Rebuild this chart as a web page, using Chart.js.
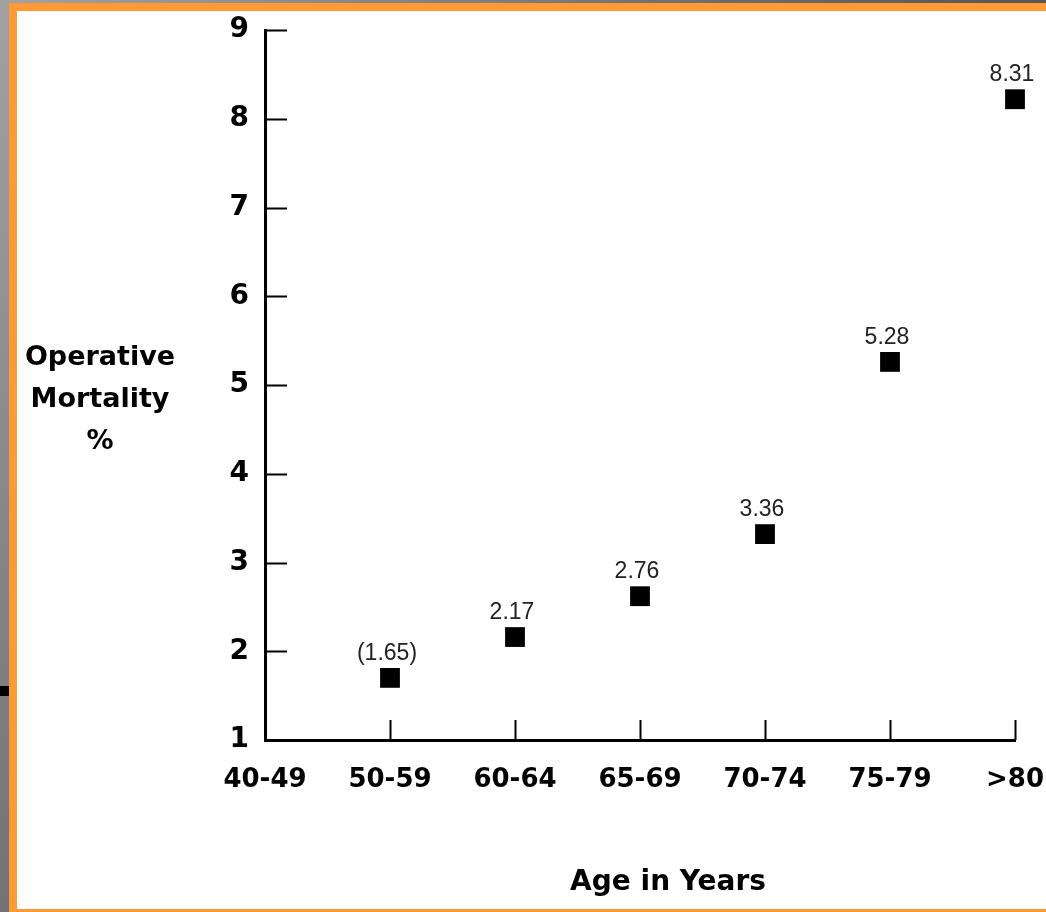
<!DOCTYPE html>
<html>
<head>
<meta charset="utf-8">
<script src="https://cdn.jsdelivr.net/npm/chart.js@4/dist/chart.umd.min.js"></script>
<style>
  html, body { margin: 0; padding: 0; }
  body {
    width: 1046px; height: 912px; overflow: hidden; position: relative;
    background: linear-gradient(125deg, #a2a2a2 0%, #6a6a6a 45%, #2a2a2a 100%);
  }
  #frame {
    position: absolute; left: 9px; top: 3px; width: 1100px; height: 898px;
    border-left: 8px solid #fe9a36; border-top: 8px solid #fe9a36; border-bottom: 3px solid #fe9a36;
    background: #fff;
  }
  #mark { position: absolute; left: 0; top: 686px; width: 9px; height: 10px; background: #000; }
  #myChart { position: absolute; left: 0; top: 0; }
</style>
</head>
<body>
<div id="mark"></div>
<div id="frame">
  <canvas id="myChart" width="1029" height="898"></canvas>
</div>
<script>
const ageGroups = ["40-49", "50-59", "60-64", "65-69", "70-74", "75-79", ">80"];
// plotted positions
const mortality = [null, 1.70, 2.16, 2.62, 3.32, 5.26, 8.22];
// printed labels above the points
const mortalityLabels = ["", "(1.65)", "2.17", "2.76", "3.36", "5.28", "8.31"];
const yTicks = [1, 2, 3, 4, 5, 6, 7, 8, 9];

const ctx = document.getElementById("myChart");

const inwardTicks = {
  id: "inwardTicks",
  afterDraw(chart) {
    const c = chart.ctx;
    const x = chart.scales.x;
    const y = chart.scales.y;
    const area = chart.chartArea;
    c.save();
    c.strokeStyle = "#000";
    c.lineWidth = 2;
    c.beginPath();
    yTicks.forEach((v) => {
      if (v === yTicks[0]) return;
      const py = Math.round(y.getPixelForValue(v)) + 0.5;
      c.moveTo(area.left, py);
      c.lineTo(area.left + 22, py);
    });
    ageGroups.forEach((g, i) => {
      if (i === 0) return;
      const px = Math.round(x.getPixelForValue(i)) + 0.5;
      c.moveTo(px, area.bottom);
      c.lineTo(px, area.bottom - 20);
    });
    c.stroke();

    // titles
    c.fillStyle = "#000";
    c.textAlign = "center";
    c.textBaseline = "middle";
    c.font = "bold 27px 'DejaVu Sans'";
    const tx = area.left - 165;
    c.fillText("Operative", tx, 347);
    c.fillText("Mortality", tx, 389);
    c.fillText("%", tx, 431);
    c.font = "bold 28px 'DejaVu Sans'";
    c.fillText("Age in Years", (area.left + area.right) / 2 + 28, 872);
    c.restore();
  },
};

const pointLabels = {
  id: "pointLabels",
  afterDatasetsDraw(chart) {
    const c = chart.ctx;
    const meta = chart.getDatasetMeta(0);
    c.save();
    c.fillStyle = "#222";
    c.font = "23px 'Liberation Sans'";
    c.textAlign = "center";
    c.textBaseline = "alphabetic";
    meta.data.forEach((pt, i) => {
      if (mortality[i] == null) return;
      c.fillText(mortalityLabels[i], pt.x - 3, pt.y - 18);
    });
    c.restore();
  },
};

new Chart(ctx, {
  type: "line",
  data: {
    labels: ageGroups,
    datasets: [
      {
        label: "Operative Mortality %",
        data: mortality,
        showLine: false,
        pointStyle: "rect",
        pointRadius: 14,
        pointHoverRadius: 14,
        backgroundColor: "#000",
        borderColor: "#000",
        borderWidth: 0,
      },
    ],
  },
  options: {
    responsive: false,
    animation: false,
    events: [],
    layout: { padding: { top: 19, right: 31, bottom: 0, left: 0 } },
    plugins: {
      legend: { display: false },
      tooltip: { enabled: false },
    },
    scales: {
      x: {
        type: "category",
        offset: false,
        grid: { display: false, drawTicks: false },
        border: { display: true, color: "#000", width: 3 },
        ticks: {
          color: "#000",
          padding: 25,
          maxRotation: 0,
          autoSkip: false,
          font: { family: "'DejaVu Sans'", weight: "bold", size: 26 },
        },
        afterFit(scale) {
          scale.height = 169;
          scale.paddingLeft = 0;
          scale.paddingRight = 0;
        },
      },
      y: {
        min: 1,
        max: 9,
        grid: { display: false, drawTicks: false },
        border: { display: true, color: "#000", width: 3 },
        ticks: {
          stepSize: 1,
          color: "#000",
          padding: 16,
          font: { family: "'DejaVu Sans'", weight: "bold", size: 28 },
        },
        afterFit(scale) {
          scale.width = 248;
          scale.paddingTop = 0;
          scale.paddingBottom = 0;
        },
      },
    },
  },
  plugins: [inwardTicks, pointLabels],
});
</script>
</body>
</html>
